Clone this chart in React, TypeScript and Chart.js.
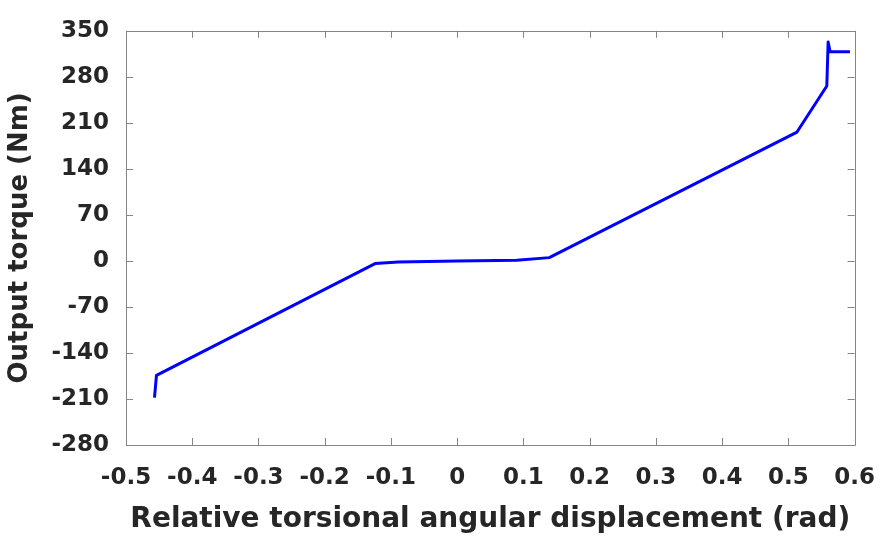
import React, { useEffect, useRef } from 'react';
import { Chart, registerables } from 'chart.js';

Chart.register(...registerables);

// Data
const displacement = [-0.457, -0.454, -0.124, -0.089, 0.0, 0.09, 0.139, 0.513, 0.558, 0.56, 0.563, 0.593];
const torque = [-208, -174, -4, -1.5, 0, 1, 5, 196, 266, 333, 318, 318];

const xTicks = [-0.5, -0.4, -0.3, -0.2, -0.1, 0, 0.1, 0.2, 0.3, 0.4, 0.5, 0.6];
const xTickLabels = ['-0.5', '-0.4', '-0.3', '-0.2', '-0.1', '0', '0.1', '0.2', '0.3', '0.4', '0.5', '0.6'];
const yTicks = [-280, -210, -140, -70, 0, 70, 140, 210, 280, 350];
const yTickLabels = ['-280', '-210', '-140', '-70', '0', '70', '140', '210', '280', '350'];

const xTitle = 'Relative torsional angular displacement (rad)';
const yTitle = 'Output torque (Nm)';

const TEXT = '#262626';
const AXIS = '#858585';

const boxPlugin = {
  id: 'boxTicks',
  beforeDatasetsDraw(chart: any) {
    const { ctx, chartArea } = chart;
    const { left, right, top, bottom } = chartArea;
    const xs = chart.scales.x;
    const ys = chart.scales.y;
    const tl = 7;
    ctx.save();
    ctx.strokeStyle = AXIS;
    ctx.lineWidth = 1;
    ctx.beginPath();
    ctx.rect(Math.round(left) + 0.5, Math.round(top) + 0.5, Math.round(right - left), Math.round(bottom - top));
    xTicks.forEach((v) => {
      const px = Math.round(xs.getPixelForValue(v)) + 0.5;
      ctx.moveTo(px, bottom);
      ctx.lineTo(px, bottom - tl);
      ctx.moveTo(px, top);
      ctx.lineTo(px, top + tl);
    });
    yTicks.forEach((v) => {
      const py = Math.round(ys.getPixelForValue(v)) + 0.5;
      ctx.moveTo(left, py);
      ctx.lineTo(left + tl, py);
      ctx.moveTo(right, py);
      ctx.lineTo(right - tl, py);
    });
    ctx.stroke();
    ctx.restore();
  },
};

export default function App() {
  const ref = useRef<HTMLCanvasElement | null>(null);

  useEffect(() => {
    if (!ref.current) return;
    const data = displacement.map((x, i) => ({ x, y: torque[i] }));
    const chart = new Chart(ref.current, {
      type: 'scatter',
      data: {
        datasets: [
          {
            data,
            showLine: true,
            borderColor: '#0000FF',
            backgroundColor: '#0000FF',
            borderWidth: 3,
            pointRadius: 0,
            tension: 0,
            borderJoinStyle: 'round',
            borderCapStyle: 'butt',
          } as any,
        ],
      },
      plugins: [boxPlugin],
      options: {
        responsive: false,
        animation: false,
        devicePixelRatio: 1,
        layout: { padding: { top: 25, right: 39, left: 0, bottom: 0 } },
        plugins: { legend: { display: false }, tooltip: { enabled: false } },
        scales: {
          x: {
            type: 'linear',
            min: -0.5,
            max: 0.6,
            afterBuildTicks: (s: any) => {
              s.ticks = xTicks.map((v) => ({ value: v }));
            },
            afterFit: (s: any) => {
              s.height = 102;
            },
            grid: { display: false, drawTicks: false },
            border: { display: false },
            ticks: {
              padding: 19,
              autoSkip: false,
              maxRotation: 0,
              color: TEXT,
              font: { family: 'DejaVu Sans', weight: 'bold', size: 23 },
              callback: (v: any) => {
                const i = xTicks.findIndex((t) => Math.abs(t - Number(v)) < 1e-9);
                return i >= 0 ? xTickLabels[i] : '';
              },
            },
            title: {
              display: true,
              text: xTitle,
              color: TEXT,
              font: { family: 'DejaVu Sans', weight: 'bold', size: 28 },
              padding: { top: 0, bottom: 10 },
            },
          },
          y: {
            type: 'linear',
            min: -280,
            max: 350,
            afterBuildTicks: (s: any) => {
              s.ticks = yTicks.map((v) => ({ value: v }));
            },
            afterFit: (s: any) => {
              s.width = 126;
            },
            grid: { display: false, drawTicks: false },
            border: { display: false },
            ticks: {
              padding: 17,
              autoSkip: false,
              color: TEXT,
              font: { family: 'DejaVu Sans', weight: 'bold', size: 23 },
              callback: (v: any) => {
                const i = yTicks.findIndex((t) => Math.abs(t - Number(v)) < 1e-9);
                return i >= 0 ? yTickLabels[i] : '';
              },
            },
            title: {
              display: true,
              text: yTitle,
              color: TEXT,
              font: { family: 'DejaVu Sans', weight: 'bold', size: 26 },
              padding: { top: 5, bottom: 0 },
            },
          },
        },
      },
    });
    return () => chart.destroy();
  }, []);

  return (
    <div style={{ position: 'fixed', left: 0, top: 0, width: 894, height: 547, background: '#ffffff' }}>
      <canvas ref={ref} width={894} height={547} style={{ display: 'block', width: 894, height: 547 }} />
    </div>
  );
}
